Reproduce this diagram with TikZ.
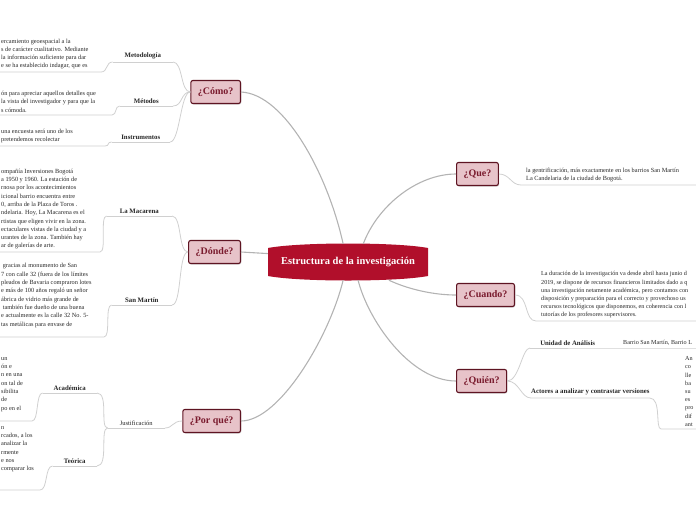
\documentclass[tikz,border=0pt]{standalone}
\usepackage{fontspec}
\setmainfont{Liberation Serif}
\usetikzlibrary{shadows}

\definecolor{rootred}{HTML}{B10F2B}
\definecolor{branchfill}{HTML}{E7C3C9}
\definecolor{branchline}{HTML}{5E1422}
\definecolor{branchtext}{HTML}{7A1B2E}
\definecolor{linkgray}{HTML}{B3B3B3}
\definecolor{twiggray}{HTML}{D0D0D0}
\definecolor{leaftext}{HTML}{262626}

\begin{document}
\begin{tikzpicture}[
   x=1pt, y=-1pt,
   root/.style={minimum width=160pt, minimum height=36pt, inner sep=0pt, text=white, font=\bfseries\fontsize{10.5}{12}\selectfont},
   branch/.style={rectangle, rounded corners=2pt, draw=branchline, line width=1.1pt, fill=branchfill, text=branchtext, minimum height=23pt, inner xsep=7pt, font=\bfseries\fontsize{10}{12}\selectfont, drop shadow={opacity=0.35, shadow xshift=0.8pt, shadow yshift=-1pt}},
   topic/.style={inner xsep=0pt, inner ysep=2.5pt, text=leaftext, font=\bfseries\fontsize{6.8}{8}\selectfont},
   plaintopic/.style={topic, font=\fontsize{6.5}{8}\selectfont},
   leaf/.style={inner xsep=4pt, inner ysep=2.5pt, align=left, text=leaftext, font=\fontsize{6.3}{8.3}\selectfont},
   edgeleaf/.style={leaf, font=\fontsize{6.15}{8.2}\selectfont},
   link/.style={draw=linkgray, line width=1.1pt},
   twig/.style={draw=twiggray, line width=0.8pt}
]
   \useasboundingbox (0,0) rectangle (696,520);
   \clip (0,0) rectangle (696,520);

   % Root
   \fill[rootred] (268,248) .. controls (300,242) and (396,242) .. (428,248) -- (428,276) .. controls (396,282) and (300,282) .. (268,276) -- cycle;
   \node[root] (root) at (348,262) {Estructura de la investigación};

   % Branches
   \node[branch, anchor=east] (como) at (241,92) {¿Cómo?};
   \node[branch, anchor=east] (donde) at (241,252) {¿Dónde?};
   \node[branch, anchor=east] (porque) at (241,421) {¿Por qué?};
   \node[branch, anchor=west] (que) at (456,174) {¿Que?};
   \node[branch, anchor=west] (cuando) at (456,295) {¿Cuando?};
   \node[branch, anchor=west] (quien) at (456,381) {¿Quién?};

   \draw[link] (como.east) .. controls (285,94) and (328,175) .. (root.105);
   \draw[link] (root.50) .. controls (378,205) and (418,174) .. (que.west);
   \draw[link] (donde.east) -- (root.174);
   \draw[link] (porque.east) .. controls (280,421) and (330,335) .. (root.255);
   \draw[link] (root.336) .. controls (410,290) and (435,295) .. (cuando.west);
   \draw[link] (root.299) .. controls (368,320) and (410,381) .. (quien.west);

   % ¿Cómo?
   \node[topic, anchor=south east, minimum width=60pt] (metod) at (173,62) {Metodología};
   \node[topic, anchor=south east, minimum width=53pt] (metodos) at (173,106) {Métodos};
   \node[topic, anchor=south east, minimum width=58pt] (instr) at (170,142) {Instrumentos};
   \node[leaf, anchor=south west] (metodtxt) at (-3,72) {ercamiento geoespacial a la\\s de carácter cualitativo. Mediante\\la información suficiente para dar\\e se ha establecido indagar, que es};
   \node[leaf, anchor=south west] (metodostxt) at (-3,115) {ón para apreciar aquellos detalles que\\la vista del investigador y para que la\\s cómoda.};
   \node[leaf, anchor=south west] (instrtxt) at (-3,146) {una encuesta será uno de los\\pretendemos recolectar};
   \coordinate (metodend) at (101,72);
   \coordinate (metodosend) at (112,115);
   \coordinate (instrend) at (105,146);

   \draw[twig] (metod.south west) -- (metod.south east);
   \draw[twig] (metodos.south west) -- (metodos.south east);
   \draw[twig] (instr.south west) -- (instr.south east);
   \draw[twig] (como.west) .. controls +(-10,0) and +(10,0) .. (metod.south east);
   \draw[twig] (como.west) .. controls +(-10,0) and +(10,0) .. (metodos.south east);
   \draw[twig] (como.west) .. controls +(-10,0) and +(10,0) .. (instr.south east);
   \draw[twig] (metodtxt.south west) -- (metodend) .. controls +(7,0) and +(-7,0) .. (metod.south west);
   \draw[twig] (metodostxt.south west) -- (metodosend) .. controls +(5,0) and +(-5,0) .. (metodos.south west);
   \draw[twig] (instrtxt.south west) -- (instrend) .. controls +(5,0) and +(-5,0) .. (instr.south west);

   % ¿Dónde?
   \node[topic, anchor=south east, minimum width=65pt] (maca) at (172,216) {La Macarena};
   \node[topic, anchor=south east, minimum width=60pt] (sanm) at (172,305) {San Martín};
   \node[leaf, anchor=south west] (macatxt) at (-3,252) {ompañía Inversiones Bogotá\\a 1950 y 1960. La estación de\\rnosa por los acontecimientos\\icional barrio encuentra entre\\0, arriba de la Plaza de Toros .\\ndelaria. Hoy, La Macarena es el\\rtistas que eligen vivir en la zona.\\ectaculares vistas de la ciudad y a\\urantes de la zona. También hay\\ar de galerías de arte.};
   \node[leaf, anchor=south west] (sanmtxt) at (-3,337) {\ gracias al monumento de San\\7 con calle 32 (fuera de los límites\\pleados de Bavaria compraron lotes\\e más de 100 años regaló un señor\\ábrica de vidrio más grande de\\\ también fue dueño de una buena\\e actualmente es la calle 32 No. 5-\\tas metálicas para envase de\\\mbox{}};
   \coordinate (macaend) at (100,252);
   \coordinate (sanmend) at (104,337);

   \draw[twig] (maca.south west) -- (maca.south east);
   \draw[twig] (sanm.south west) -- (sanm.south east);
   \draw[twig] (donde.west) .. controls +(-10,0) and +(10,0) .. (maca.south east);
   \draw[twig] (donde.west) .. controls +(-10,0) and +(10,0) .. (sanm.south east);
   \draw[twig] (macatxt.south west) -- (macaend) .. controls +(7,0) and +(-7,0) .. (maca.south west);
   \draw[twig] (sanmtxt.south west) -- (sanmend) .. controls +(7,0) and +(-7,0) .. (sanm.south west);

   % ¿Por qué?
   \node[plaintopic, anchor=south east, minimum width=57pt] (just) at (165,428) {Justificación};
   \node[topic, anchor=south east, minimum width=54pt] (acad) at (97,393) {Académica};
   \node[topic, anchor=south east, minimum width=44pt] (teor) at (97,466) {Teórica};
   \node[leaf, anchor=south west] (acadtxt) at (-3,421) {un\\ón e\\n en una\\on tal de\\sibilita\\de\\po en el\\\mbox{}};
   \node[leaf, anchor=south west] (teortxt) at (-3,490) {n\\rcados, a los\\analizar la\\rmente\\e nos\\comparar los\\\mbox{}\\\mbox{}};
   \coordinate (acadend) at (32,421);
   \coordinate (teorend) at (40,490);

   \draw[twig] (just.south west) -- (just.south east);
   \draw[twig] (acad.south west) -- (acad.south east);
   \draw[twig] (teor.south west) -- (teor.south east);
   \draw[twig] (porque.west) .. controls +(-10,0) and +(8,0) .. (just.south east);
   \draw[twig] (just.south west) .. controls +(-8,0) and +(12,0) .. (acad.south east);
   \draw[twig] (just.south west) .. controls +(-8,0) and +(12,0) .. (teor.south east);
   \draw[twig] (acadtxt.south west) -- (acadend) .. controls +(7,0) and +(-7,0) .. (acad.south west);
   \draw[twig] (teortxt.south west) -- (teorend) .. controls +(8,0) and +(-8,0) .. (teor.south west);

   % ¿Que?
   \node[leaf, anchor=south west, inner xsep=5pt] (quetxt) at (521,185) {la gentrificación, más exactamente en los barrios San Martín\\La Candelaria de la ciudad de Bogotá.};
   \draw[twig] (que.east) .. controls +(11,0) and +(-10,0) .. (quetxt.south west) -- ++(200,0);

   % ¿Cuando?
   \node[edgeleaf, anchor=south west, inner xsep=5pt] (cuandotxt) at (536,321) {La duración de la investigación va desde abril hasta junio d\\2019, se dispone de recursos financieros limitados dado a q\\una investigación netamente académica, pero contamos con\\disposición y preparación para el correcto y provechoso us\\recursos tecnológicos que disponemos, en coherencia con l\\tutorías de los profesores supervisores.};
   \draw[twig] (cuando.east) .. controls +(14,0) and +(-12,0) .. (cuandotxt.south west) -- ++(200,0);

   % ¿Quién?
   \node[topic, anchor=south west, minimum width=75pt] (unidad) at (530,348) {Unidad de Análisis};
   \node[topic, anchor=south west, minimum width=115pt] (actores) at (531,398) {Actores a analizar y contrastar versiones};
   \node[edgeleaf, anchor=south west, inner xsep=5pt] (barrio) at (618,348) {Barrio San Martín, Barrio L};
   \node[edgeleaf, anchor=south west] (actorestxt) at (681,429) {An\\co\\lle\\ba\\su\\es\\pro\\dif\\ant};
   \coordinate (actline) at (661,429);

   \draw[twig] (quien.east) .. controls +(12,0) and +(-8,0) .. (unidad.south west);
   \draw[twig] (quien.east) .. controls +(12,0) and +(-10,0) .. (actores.south west);
   \draw[twig] (unidad.south west) -- (unidad.south east) -- (barrio.south west) -- ++(200,0);
   \draw[twig] (actores.south west) -- (actores.south east) .. controls +(12,0) and +(-6,0) .. (actline) -- ++(60,0);
\end{tikzpicture}
\end{document}
